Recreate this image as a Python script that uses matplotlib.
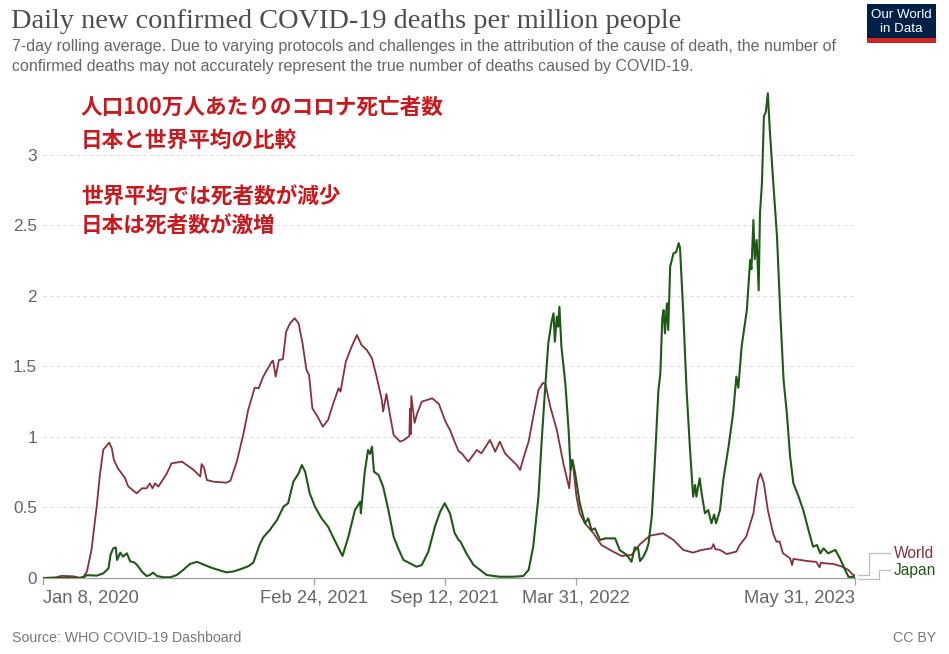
import matplotlib
matplotlib.use("Agg")
import matplotlib.pyplot as plt
from matplotlib.lines import Line2D
from matplotlib.patches import Rectangle
import pandas as pd

# ---------------- data ----------------
START = "2020-01-08"
series_names = ["World", "Japan"]

world_days = [0, 20, 28, 46, 56, 62, 67, 74, 82, 87, 92, 101, 105, 108, 114, 125, 130, 143,
              151, 158, 163, 167, 171, 176, 189, 196, 212, 230, 240, 242, 246, 250, 260, 280,
              286, 296, 306, 313, 323, 329, 336, 349, 351, 355, 360, 366, 371, 377, 384, 390,
              396, 402, 406, 411, 419, 427, 435, 443, 451, 454, 462, 471, 479, 486, 494, 502,
              509, 517, 519, 524, 529, 535, 545, 551, 559, 560, 561, 562, 567, 571, 578, 594,
              604, 614, 621, 628, 634, 639, 649, 662, 669, 682, 690, 697, 705, 715, 723, 728,
              733, 741, 748, 756, 763, 767, 774, 784, 794, 803, 806, 809, 814, 819, 827, 840,
              852, 870, 883, 898, 911, 926, 946, 962, 977, 992, 1005, 1020, 1023, 1026, 1033,
              1043, 1058, 1063, 1073, 1084, 1091, 1095, 1100, 1106, 1114, 1119, 1124, 1129,
              1140, 1143, 1145, 1150, 1165, 1180, 1185, 1187, 1190, 1206, 1218, 1229, 1236, 1239]
world_vals = [0.0, 0.005, 0.015, 0.012, 0.002, 0.01, 0.045, 0.20, 0.51, 0.74, 0.91, 0.96, 0.92, 0.84, 0.78, 0.71, 0.65, 0.60,
              0.636, 0.636, 0.671, 0.636, 0.671, 0.648, 0.742, 0.813, 0.825, 0.766, 0.719, 0.808, 0.778, 0.695, 0.683, 0.676,
              0.69, 0.83, 1.026, 1.19, 1.35, 1.345, 1.428, 1.534, 1.541, 1.428, 1.546, 1.551, 1.747, 1.806, 1.842, 1.806,
              1.664, 1.475, 1.44, 1.203, 1.144, 1.073, 1.121, 1.239, 1.345, 1.322, 1.534, 1.641, 1.723, 1.652, 1.617, 1.558,
              1.428, 1.262, 1.180, 1.305, 1.168, 1.014, 0.967, 0.979, 1.007, 1.20, 1.02, 1.29, 1.10, 1.168, 1.251, 1.274,
              1.235, 1.11, 1.05, 0.967, 0.90, 0.884, 0.825, 0.908, 0.884, 0.979, 0.896, 0.967, 0.884, 0.837, 0.801, 0.766,
              0.849, 0.967, 1.144, 1.333, 1.385, 1.369, 1.215, 1.050, 0.813, 0.636, 0.837, 0.790, 0.577, 0.459, 0.388, 0.317,
              0.234, 0.187, 0.156, 0.163, 0.24, 0.30, 0.317, 0.270, 0.199, 0.180, 0.199, 0.21, 0.24, 0.205, 0.199,
              0.170, 0.187, 0.234, 0.293, 0.459, 0.695, 0.742, 0.671, 0.482, 0.317, 0.258, 0.258, 0.176,
              0.139, 0.092, 0.135, 0.132, 0.121, 0.114, 0.075, 0.11, 0.106, 0.099, 0.083, 0.057, 0.021, 0.02]

japan_days = [0, 60, 67, 82, 92, 100, 103, 107, 111, 113, 118, 122, 128, 133, 139, 143, 151, 158,
              163, 168, 174, 184, 194, 204, 214, 224, 235, 245, 258, 270, 280, 291, 303, 314, 321, 326,
              330, 336, 346, 357, 367, 374, 382, 390, 395, 400, 407, 415, 425, 435, 446, 457, 466, 476,
              484, 485, 491, 496, 499, 502, 505, 512, 519, 527, 535, 542, 550, 560, 570, 578, 588, 598,
              606, 613, 621, 628, 634, 637, 646, 657, 667, 677, 697, 718, 733, 741, 748, 756, 761, 766,
              771, 776, 779, 781, 784, 786, 788, 791, 797, 802, 805, 808, 812, 819, 827, 832, 837, 842,
              850, 858, 873, 880, 891, 898, 903, 908, 911, 916, 921, 924, 929, 934, 939, 942, 945, 947,
              949, 952, 954, 957, 962, 966, 970, 972, 977, 982, 987, 992, 995, 997, 1002, 1005, 1010, 1015,
              1020, 1024, 1027, 1033, 1038, 1046, 1053, 1058, 1061, 1066, 1074, 1079, 1081, 1084, 1086, 1089,
              1092, 1094, 1097, 1100, 1103, 1106, 1109, 1114, 1120, 1125, 1130, 1135, 1140, 1145, 1153, 1160,
              1168, 1175, 1181, 1186, 1191, 1198, 1209, 1216, 1224, 1229, 1239]
japan_vals = [0.0, 0.0, 0.02, 0.017, 0.033, 0.069, 0.163, 0.210, 0.217, 0.128, 0.180, 0.151, 0.175, 0.118, 0.111, 0.095, 0.045, 0.014,
              0.021, 0.038, 0.014, 0.005, 0.005, 0.021, 0.057, 0.099, 0.115, 0.095, 0.071, 0.054, 0.04, 0.047, 0.065, 0.085, 0.11, 0.175,
              0.23, 0.288, 0.340, 0.411, 0.506, 0.530, 0.683, 0.742, 0.801, 0.754, 0.600, 0.506, 0.423, 0.364, 0.258, 0.156, 0.293, 0.482,
              0.541, 0.459, 0.754, 0.908, 0.88, 0.931, 0.754, 0.730, 0.648, 0.482, 0.293, 0.210, 0.128, 0.104, 0.080, 0.092, 0.187, 0.364,
              0.47, 0.530, 0.459, 0.32, 0.27, 0.258, 0.175, 0.092, 0.057, 0.021, 0.009, 0.009, 0.014, 0.057, 0.222, 0.577, 0.979, 1.333,
              1.664, 1.818, 1.877, 1.676, 1.853, 1.782, 1.924, 1.641, 1.381, 1.050, 0.766, 0.837, 0.742, 0.530, 0.388, 0.423, 0.340, 0.352,
              0.270, 0.281, 0.281, 0.198, 0.163, 0.115, 0.217, 0.210, 0.12, 0.151, 0.199, 0.246, 0.44, 0.86, 1.33, 1.45, 1.85, 1.90,
              1.735, 1.948, 1.759, 2.208, 2.302, 2.31, 2.374, 2.34, 1.877, 1.333, 0.931, 0.577, 0.660, 0.577, 0.707, 0.600, 0.459, 0.482,
              0.388, 0.45, 0.388, 0.482, 0.695, 0.931, 1.168, 1.428, 1.35, 1.641, 1.901, 2.255, 2.19, 2.539, 2.262, 2.397,
              2.04, 2.586, 2.799, 3.272, 3.307, 3.437, 3.177, 2.823, 2.42, 1.877, 1.404, 1.168, 0.861, 0.671, 0.577, 0.482,
              0.340, 0.222, 0.234, 0.175, 0.210, 0.175, 0.199, 0.139, 0.057, 0.009, 0.005]

tick_dates = ["2020-01-08", "2021-02-24", "2021-09-12", "2022-03-31", "2023-05-31"]
tick_labels = ["Jan 8, 2020", "Feb 24, 2021", "Sep 12, 2021", "Mar 31, 2022", "May 31, 2023"]
y_ticks = [0, 0.5, 1, 1.5, 2, 2.5, 3]
y_tick_labels = ["0", "0.5", "1", "1.5", "2", "2.5", "3"]

title = "Daily new confirmed COVID-19 deaths per million people"
subtitle_lines = ["7-day rolling average. Due to varying protocols and challenges in the attribution of the cause of death, the number of",
                  "confirmed deaths may not accurately represent the true number of deaths caused by COVID-19."]
note_lines = ["人口100万人あたりのコロナ死亡者数", "日本と世界平均の比較", "世界平均では死者数が減少", "日本は死者数が激増"]
source_text = "Source: WHO COVID-19 Dashboard"
license_text = "CC BY"

assert len(world_days) == len(world_vals)
assert len(japan_days) == len(japan_vals)

# ---------------- styling ----------------
W, H = 949, 654
WORLD_C = "#8a2f3d"
JAPAN_C = "#1e5a16"
RED = "#c81a1e"
SANS = ["Liberation Sans", "DejaVu Sans"]

fig = plt.figure(figsize=(W / 100, H / 100), dpi=100)
fig.patch.set_facecolor("white")


def fx(px):
    return px / W


def fy(py):
    return 1 - py / H


x_left, x_right, y_zero, y_top = 43, 855, 578, 91.5
ax = fig.add_axes([fx(x_left), fy(y_zero), fx(x_right) - fx(x_left), (y_zero - y_top) / H])

start = pd.Timestamp(START)
world_x = start + pd.to_timedelta(world_days, unit="D")
japan_x = start + pd.to_timedelta(japan_days, unit="D")
tick_x = pd.to_datetime(tick_dates)

ax.set_xlim(tick_x[0], tick_x[-1])
ax.set_ylim(0, 3.45)

for y in y_ticks[1:]:
    ax.axhline(y, color="#dcdcdc", lw=0.8, ls=(0, (3, 3)), zorder=0)

ax.plot(world_x, world_vals, color=WORLD_C, lw=1.3, zorder=3, solid_joinstyle="round")
ax.plot(japan_x, japan_vals, color=JAPAN_C, lw=1.5, zorder=4, solid_joinstyle="round")

for s in ["top", "right", "left"]:
    ax.spines[s].set_visible(False)
ax.spines["bottom"].set_color("#a0a0a0")
ax.spines["bottom"].set_linewidth(0.9)

ax.set_yticks(y_ticks)
ax.set_yticklabels(y_tick_labels, fontfamily=SANS, fontsize=12.4, color="#666666")
ax.tick_params(axis="y", length=0, pad=4.3)
ax.set_xticks(tick_x)
ax.set_xticklabels(tick_labels, fontfamily=SANS, fontsize=13.2, color="#666666")
ax.tick_params(axis="x", length=5, width=0.9, color="#a0a0a0", pad=3.5)
lbls = ax.get_xticklabels()
lbls[0].set_ha("left")
lbls[-1].set_ha("right")


# ---------------- texts ----------------
def fit(t, target):
    fig.canvas.draw()
    r = fig.canvas.get_renderer()
    w = t.get_window_extent(r).width
    t.set_fontsize(t.get_fontsize() * target / w)


t_title = fig.text(fx(11), fy(21.5), title, fontfamily=["Liberation Serif"], fontsize=19,
                   color="#4d4d4d", va="center", ha="left")
fit(t_title, 672)

t_sub1 = fig.text(fx(12), fy(47), subtitle_lines[0], fontfamily=SANS, fontsize=10.5,
                  color="#666666", va="center", ha="left")
fit(t_sub1, 834)
t_sub2 = fig.text(fx(12), fy(67), subtitle_lines[1], fontfamily=SANS, fontsize=t_sub1.get_fontsize(),
                  color="#666666", va="center", ha="left")

note_y = [107.5, 140.5, 197.5, 226.5]
for txt, yy in zip(note_lines, note_y):
    fig.text(fx(81), fy(yy), txt, fontfamily=["Noto Sans CJK JP", "DejaVu Sans"], fontweight="bold",
             fontsize=15.6, color=RED, va="center", ha="left")

fig.text(fx(12), fy(638), source_text, fontfamily=SANS, fontsize=10.2, color="#777777",
         va="center", ha="left")
fig.text(fx(936), fy(638), license_text, fontfamily=SANS, fontsize=10.2, color="#777777",
         va="center", ha="right")

# legend labels with connectors
conn = "#bdbdbd"
for pts in ([(858, 575), (869, 575), (869, 553), (890, 553)],
            [(858, 578.5), (879, 578.5), (879, 570), (890, 570)]):
    fig.add_artist(Line2D([fx(p[0]) for p in pts], [fy(p[1]) for p in pts],
                          color=conn, lw=0.9, transform=fig.transFigure))
fig.text(fx(894), fy(553), series_names[0], fontfamily=SANS, fontsize=11.2, color=WORLD_C,
         va="center", ha="left")
fig.text(fx(894), fy(571), series_names[1], fontfamily=SANS, fontsize=11.2, color=JAPAN_C,
         va="center", ha="left")

# logo
fig.add_artist(Rectangle((fx(867), fy(43)), fx(936) - fx(867), (43 - 4) / H,
                         transform=fig.transFigure, facecolor="#002147", edgecolor="none"))
fig.add_artist(Rectangle((fx(867), fy(43)), fx(936) - fx(867), (43 - 38.5) / H,
                         transform=fig.transFigure, facecolor="#ce261e", edgecolor="none"))
LOGO_F = ["Liberation Sans Narrow", "Liberation Sans", "DejaVu Sans"]
t_l1 = fig.text(fx(901.5), fy(15.5), "Our World", fontfamily=LOGO_F, fontsize=10.5, color="white",
                va="center", ha="center")
fit(t_l1, 61)
fig.text(fx(901.5), fy(29.5), "in Data", fontfamily=LOGO_F, fontsize=t_l1.get_fontsize(), color="white",
         va="center", ha="center")

fig.savefig("out.png", dpi=100, facecolor="white")
